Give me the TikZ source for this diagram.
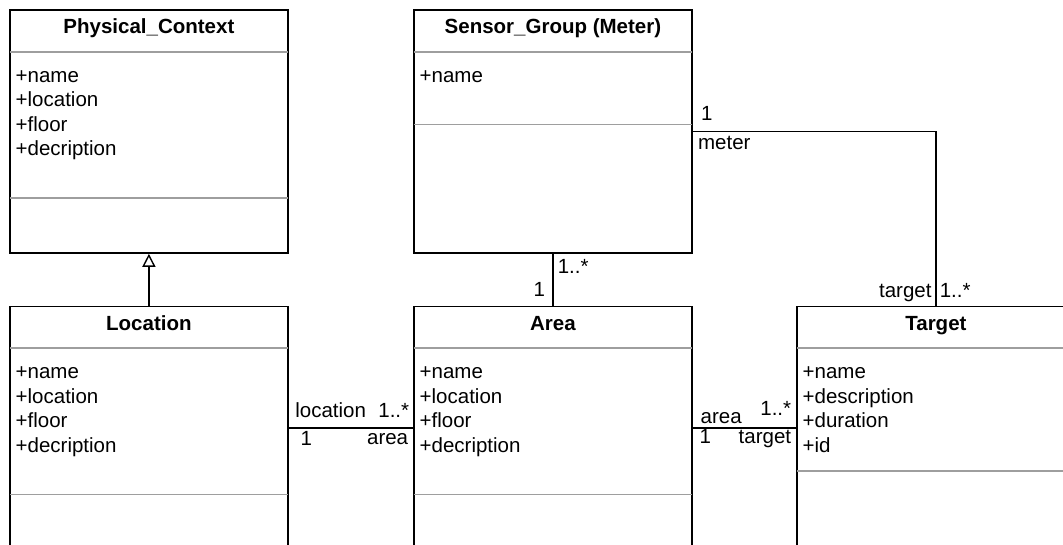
\documentclass[tikz,border=0pt]{standalone}
\usepackage{fontspec}
\setmainfont{Liberation Sans}
\usetikzlibrary{positioning,calc,arrows.meta}
\newcommand{\umlfont}{\fontsize{20.5}{24.5}\selectfont}

\begin{document}
\begin{tikzpicture}[
  x=1pt, y=-1pt,
  classbox/.style={draw=black, line width=1.8pt, anchor=north west,
                   minimum width=278pt, minimum height=243pt, inner sep=0pt},
  ctitle/.style={anchor=base, font=\umlfont\bfseries, inner sep=0pt},
  attrs/.style={anchor=base west, align=left, font=\umlfont, inner sep=0pt},
  sepline/.style={line width=1.6pt, black!38},
  assoc/.style={line width=1.7pt, black},
  inherit/.style={line width=1.7pt,
                  -{Triangle[open, length=13pt, width=13pt, line width=1.4pt]}},
  mult/.style={font=\umlfont, inner sep=0pt},
]
\useasboundingbox (0,0) rectangle (1063,544);
\clip (0,0) rectangle (1063,544);

% Row 0: Physical_Context + Sensor_Group
% (attribute nodes are placed by the baseline of their last line)
\node[classbox] (physical) at (9,9) {};
\node[ctitle] (physicalTitle) at ($(physical.north)+(0,24.5)$) {Physical\_Context};
\node[attrs] (physicalAttrs) at ($(physical.north west)+(6.5,146.5)$)
  {+name\\+location\\+floor\\+decription};
\draw[sepline] ($(physical.north west)+(1,42.7)$) -- ($(physical.north east)+(-1,42.7)$);
\draw[sepline] ($(physical.north west)+(1,188.7)$) -- ($(physical.north east)+(-1,188.7)$);

\node[classbox] (sensor) at (413,9) {};
\node[ctitle] (sensorTitle) at ($(sensor.north)+(0,24.5)$) {Sensor\_Group (Meter)};
\node[attrs] (sensorAttrs) at ($(sensor.north west)+(6.5,73)$) {+name};
\draw[sepline] ($(sensor.north west)+(1,42.7)$) -- ($(sensor.north east)+(-1,42.7)$);
\draw[sepline] ($(sensor.north west)+(1,115.3)$) -- ($(sensor.north east)+(-1,115.3)$);

% Row 1: Location, Area, Target (cut off at the bottom)
\node[classbox] (location) at (9,305.5) {};
\node[ctitle] (locationTitle) at ($(location.north)+(0,24.5)$) {Location};
\node[attrs] (locationAttrs) at ($(location.north west)+(6.5,146.5)$)
  {+name\\+location\\+floor\\+decription};
\draw[sepline] ($(location.north west)+(1,42.7)$) -- ($(location.north east)+(-1,42.7)$);
\draw[sepline] ($(location.north west)+(1,189)$) -- ($(location.north east)+(-1,189)$);

\node[classbox] (area) at (413,305.5) {};
\node[ctitle] (areaTitle) at ($(area.north)+(0,24.5)$) {Area};
\node[attrs] (areaAttrs) at ($(area.north west)+(6.5,146.5)$)
  {+name\\+location\\+floor\\+decription};
\draw[sepline] ($(area.north west)+(1,42.7)$) -- ($(area.north east)+(-1,42.7)$);
\draw[sepline] ($(area.north west)+(1,189)$) -- ($(area.north east)+(-1,189)$);

\node[classbox] (target) at (796,305.5) {};
\node[ctitle] (targetTitle) at ($(target.north)+(0,24.5)$) {Target};
\node[attrs] (targetAttrs) at ($(target.north west)+(6.5,146.5)$)
  {+name\\+description\\+duration\\+id};
\draw[sepline] ($(target.north west)+(1,42.7)$) -- ($(target.north east)+(-1,42.7)$);
\draw[sepline] ($(target.north west)+(1,165.5)$) -- ($(target.north east)+(-1,165.5)$);

% Generalisation
\draw[inherit] (location.north) -- (physical.south);

% Associations with role names and multiplicities
\draw[assoc] (sensor.south) -- (area.north)
  node[mult, pos=0, anchor=base west, xshift=4pt, yshift=-19.7pt] (sensorMult) {1..*}
  node[mult, pos=1, anchor=base east, xshift=-7pt, yshift=8.8pt] (areaMultS) {1};

\draw[assoc] (sensor.east) -| (target.north)
  node[mult, pos=0, anchor=base west, xshift=7.5pt, yshift=10.5pt] (meterMult) {1}
  node[mult, pos=0, anchor=base west, xshift=4.5pt, yshift=-17.8pt] (meterRole) {meter}
  node[mult, pos=1, anchor=base east, xshift=-3.5pt, yshift=8.5pt] (targetRoleM) {target}
  node[mult, pos=1, anchor=base west, xshift=3pt, yshift=8.5pt] (targetMultM) {1..*};

\draw[assoc] (location.east) -- (area.west)
  node[mult, pos=0, anchor=base west, xshift=5.7pt, yshift=10.5pt] (locRole) {location}
  node[mult, pos=1, anchor=base east, xshift=-3pt, yshift=10.5pt] (locAreaMult) {1..*}
  node[mult, pos=0, anchor=base west, xshift=11pt, yshift=-17.5pt] (locMult) {1}
  node[mult, pos=1, anchor=base east, xshift=-4pt, yshift=-17pt] (locAreaRole) {area};

\draw[assoc] (area.east) -- (target.west)
  node[mult, pos=0, anchor=base west, xshift=7pt, yshift=4pt] (areaRole) {area}
  node[mult, pos=1, anchor=base east, xshift=-4pt, yshift=12pt] (targetMultA) {1..*}
  node[mult, pos=0, anchor=base west, xshift=6pt, yshift=-16pt] (areaMultA) {1}
  node[mult, pos=1, anchor=base east, xshift=-4pt, yshift=-16pt] (targetRoleA) {target};

\end{tikzpicture}
\end{document}
